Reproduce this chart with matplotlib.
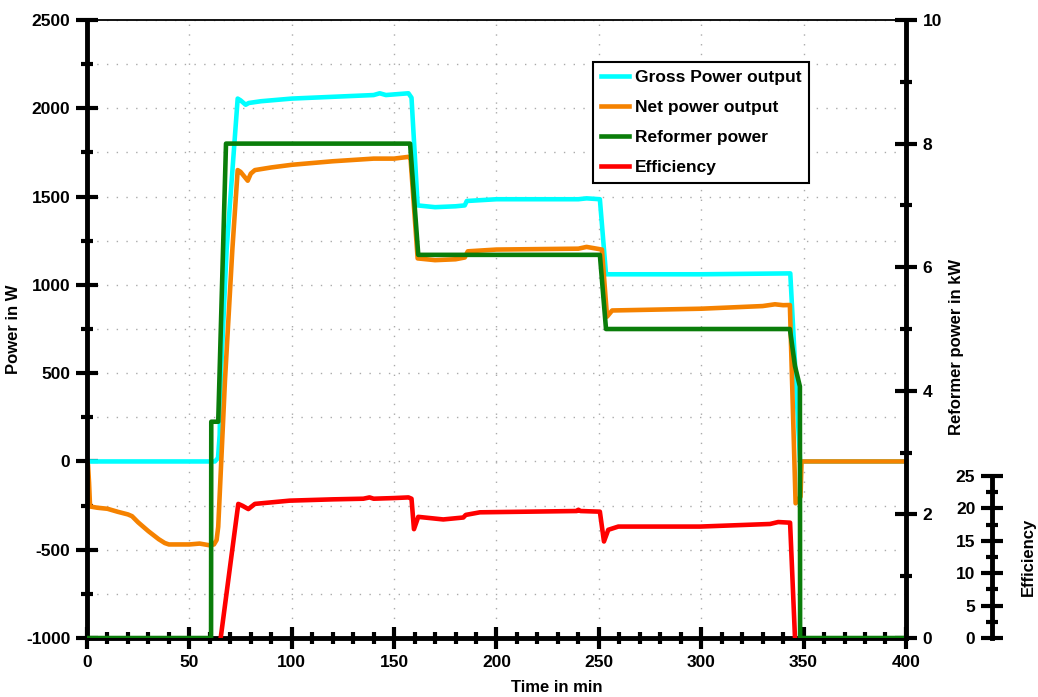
import matplotlib
matplotlib.use('Agg')
import matplotlib.pyplot as plt
from matplotlib.ticker import MultipleLocator, FixedLocator

# gross power output in W
gross_t = [0, 62.5, 64.0, 64.8, 65.3, 68.2, 73.6, 75, 77.5, 79, 85, 100, 120, 140, 143, 146,
           157, 158.5, 161.5, 170, 180, 184.5, 185.5, 200, 240, 244, 250.5, 253.5, 300,
           343.5, 348.3, 400]
gross_w = [0, 0, 20, 150, 460, 1200, 2055, 2045, 2020, 2030, 2040, 2055, 2065, 2075, 2085, 2075,
           2085, 2060, 1450, 1440, 1445, 1450, 1475, 1485, 1485, 1490, 1485, 1060, 1060,
           1065, 0, 0]

# net power output in W
net_t = [0, 0.5, 1.0, 1.5, 5, 10, 15, 20, 22, 25, 30, 35, 38, 40, 50, 55, 60, 62, 63.3, 64.1,
         67.4, 71, 73.6, 75, 78.5, 80, 82, 90, 100, 120, 140, 150, 157, 158, 161.5, 170, 180,
         184.5, 186, 200, 240, 244, 251.5, 254, 256.5, 300, 330, 336, 340, 343.3, 346.1, 348.5,
         349, 400]
net_w = [0, -20, -120, -255, -262, -268, -285, -300, -310, -345, -395, -440, -462, -470, -470,
         -465, -475, -470, -445, -370, 460, 1200, 1650, 1640, 1590, 1630, 1650, 1665, 1680, 1700,
         1715, 1715, 1725, 1720, 1150, 1140, 1145, 1155, 1190, 1200, 1205, 1215, 1200, 820, 855,
         865, 880, 890, 885, 886, -237, -200, 0, 0]

# reformer power in kW
ref_t = [0, 60.6, 60.7, 64.1, 67.9, 157.8, 161.8, 250.5, 253.5, 343.3, 345.8, 348.2, 348.3, 400]
ref_kw = [0, 0, 3.5, 3.5, 8, 8, 6.2, 6.2, 5.0, 5.0, 4.4, 4.07, 0, 0]

# efficiency
eff_t = [65.3, 73.9, 76, 78.8, 82, 99, 120, 135, 138, 140, 150, 157, 158.5, 159.7, 161.8, 174,
         183.8, 185, 191.9, 239.2, 240, 241, 250.5, 252.5, 254.6, 259.5, 299.4, 333.6, 337.6,
         343.4, 345.8]
eff_v = [0, 20.7, 20.4, 19.9, 20.7, 21.2, 21.4, 21.5, 21.7, 21.5, 21.6, 21.7, 21.5, 16.8, 18.7,
         18.3, 18.6, 19.0, 19.4, 19.6, 19.8, 19.6, 19.5, 14.9, 16.7, 17.2, 17.2, 17.6, 17.9,
         17.8, 0]
eff_ticks = [0, 5, 10, 15, 20, 25]
eff_minor = [2.5, 7.5, 12.5, 17.5, 22.5]

plt.rcParams['font.family'] = ['Liberation Sans', 'DejaVu Sans']
plt.rcParams['font.weight'] = 'bold'
plt.rcParams['axes.unicode_minus'] = False

fig = plt.figure(figsize=(10.38, 6.97), dpi=100)
left, bottom, width, height = 0.0838, 0.0846, 0.789, 0.8867
ax = fig.add_axes([left, bottom, width, height])

lw = 3.3
spine_w = 3.5
label_size = 12


def style_ticks(a, axis):
    a.tick_params(axis=axis, which='major', direction='inout', length=16, width=3,
                  labelsize=12.5, pad=4)
    a.tick_params(axis=axis, which='minor', direction='inout', length=9, width=3)


ax.plot(gross_t, gross_w, color='#00FFFF', lw=lw, label='Gross Power output')
ax.plot(net_t, net_w, color='#F58200', lw=lw, label='Net power output')
ax.set_xlim(0, 400)
ax.set_ylim(-1000, 2500)
ax.xaxis.set_major_locator(MultipleLocator(50))
ax.xaxis.set_minor_locator(MultipleLocator(10))
ax.yaxis.set_major_locator(MultipleLocator(500))
ax.yaxis.set_minor_locator(MultipleLocator(250))
style_ticks(ax, 'x')
style_ticks(ax, 'y')
ax.tick_params(top=False, which='both')
ax.grid(True, axis='x', which='major', color='#aaaaaa', lw=1, linestyle=(0, (1, 6)))
ax.grid(True, axis='y', which='both', color='#aaaaaa', lw=1, linestyle=(0, (1, 6)))
for s in ['left', 'bottom']:
    ax.spines[s].set_linewidth(spine_w)
ax.spines['top'].set_linewidth(1.3)
ax.spines['right'].set_visible(False)
ax.set_ylabel('Power in W', fontsize=label_size, fontweight='bold')
ax.yaxis.set_label_coords(-0.081, 0.5)
ax.set_xlabel('Time in min', fontsize=label_size, fontweight='bold')
ax.xaxis.set_label_coords(0.573, -0.068)

# reformer power axis
ax2 = ax.twinx()
ax2.plot(ref_t, ref_kw, color='#0A7D0A', lw=lw, label='Reformer power')
ax2.set_ylim(0, 10)
ax2.yaxis.set_major_locator(MultipleLocator(2))
ax2.yaxis.set_minor_locator(MultipleLocator(1))
style_ticks(ax2, 'y')
for s in ['left', 'top', 'bottom']:
    ax2.spines[s].set_visible(False)
ax2.spines['right'].set_linewidth(spine_w)
ax2.set_ylabel('Reformer power in kW', fontsize=label_size, fontweight='bold')
ax2.yaxis.set_label_coords(1.052, 0.471)

# efficiency drawn on its own scale (0..25 takes the lower part of the plot)
eff_top = 25 * 618 / 162
ax3 = ax.twinx()
ax3.plot(eff_t, eff_v, color='#FF0000', lw=lw, label='Efficiency')
ax3.set_ylim(0, eff_top)
ax3.set_yticks([])
for s in ax3.spines.values():
    s.set_visible(False)

scale_w = 0.0001
scale = fig.add_axes([992 / 1038, bottom, scale_w, height])
scale.set_ylim(0, eff_top)
scale.set_xticks([])
for s in ['right', 'top', 'bottom']:
    scale.spines[s].set_visible(False)
scale.spines['left'].set_linewidth(spine_w)
scale.spines['left'].set_bounds(0, 25)
scale.yaxis.set_major_locator(FixedLocator(eff_ticks))
scale.yaxis.set_minor_locator(FixedLocator(eff_minor))
style_ticks(scale, 'y')
scale.patch.set_visible(False)
scale.set_ylabel('Efficiency', fontsize=label_size, fontweight='bold')
scale.yaxis.set_label_position('right')
scale.yaxis.set_label_coords(29 / (scale_w * 1038), 0.131)

handles = ax.get_lines() + ax2.get_lines() + ax3.get_lines()
leg = ax3.legend(handles, [h.get_label() for h in handles], loc='upper left',
                 bbox_to_anchor=(0.618, 0.932), borderaxespad=0, fancybox=False,
                 edgecolor='black', framealpha=1, prop={'size': 12.5, 'weight': 'bold'},
                 handlelength=1.6, labelspacing=0.85, borderpad=0.45, handletextpad=0.35)
leg.get_frame().set_linewidth(1.5)

fig.savefig('out.png', dpi=100)
